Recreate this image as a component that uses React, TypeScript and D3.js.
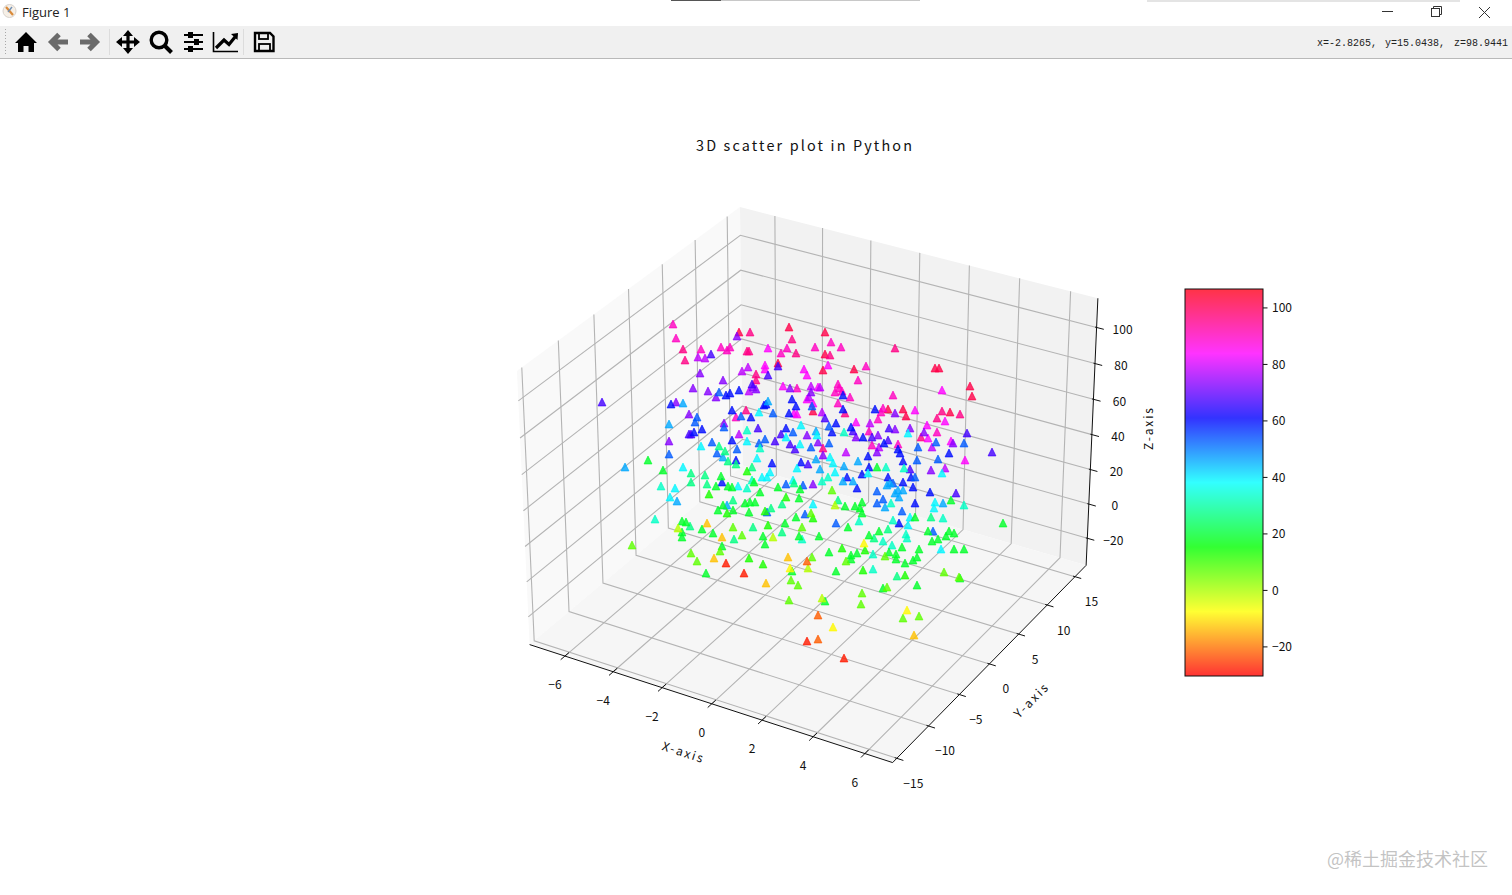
import * as d3 from "d3";
import { useEffect, useRef } from "react";

const xTicks = [-6, -4, -2, 0, 2, 4, 6];
const yTicks = [-15, -10, -5, 0, 5, 10, 15];
const zTicks = [-20, 0, 20, 40, 60, 80, 100];
const colorbarTicks = [-20, 0, 20, 40, 60, 80, 100];

const xLim: [number, number] = [-7.48, 7.06];
const yLim: [number, number] = [-15.65, 17.04];
const zLim: [number, number] = [-36, 116];
const colorLim: [number, number] = [-30.3, 106.7];

const hsvStops = ["#ff0000", "#ffff00", "#00ff00", "#00ffff", "#0000ff", "#ff00ff", "#ff0018"];

// scatter points: [viewU, viewV] grouped by colour value
const band102 = [[-61,168],[-11,173],[25,168],[25,146],[-22,137],[23,130],[54,131],[135,132],[139,132],[170,114],[172,104],[13,89],[88,91],[103,91],[106,84],[150,88]];
const band96 = [[-117,151],[-115,140],[-50,168],[-53,149],[-51,149],[-4,147],[-8,161],[30,145],[95,152],[-44,126],[-44,120],[-54,90],[45,87],[23,52],[142,89],[160,86],[137,82],[121,63]];
const band90 = [[-127,176],[-124,162],[-99,151],[-79,153],[-73,150],[-70,153],[-64,83],[31,158],[15,153],[39,112],[42,109],[38,116],[35,108],[93,105],[78,81],[69,69],[72,55],[137,68],[-13,152],[-19,147],[66,134],[58,120],[50,103],[38,97],[41,153],[83,92],[81,88],[98,56],[-3,112]];
const band84 = [[-32,152],[-35,135],[-35,131],[-17,114],[-6,87],[-3,86],[4,131],[7,125],[18,113],[28,135],[56,78],[115,90],[142,110],[145,79],[127,75],[128,62],[151,59],[165,40],[13,97],[7,101]];
const band78 = [[-58,129],[-52,133],[-51,109],[-61,66],[9,103],[20,113],[22,88],[70,77],[46,48],[79,53],[132,53],[145,32],[-102,143],[-95,142],[11,114]];
const band73 = [[-63,164],[-100,127],[-77,120],[-107,112],[-92,109],[-84,103],[-47,113],[-44,111],[-124,98],[-111,86],[-131,59],[-10,112],[11,108],[95,87],[78,65],[95,71],[110,72],[124,68],[153,57],[131,30],[23,45],[13,16],[56,63],[77,48],[7,65],[18,58],[-76,77]];
const band67 = [[-198,98],[-89,146],[-22,134],[-32,125],[-48,116],[-111,66],[-109,66],[-42,72],[-19,66],[-25,59],[-10,56],[-5,51],[8,36],[53,69],[72,63],[25,82],[88,60],[110,31],[156,7],[192,48],[167,67],[89,72]];
const band60 = [[-68,90],[-74,105],[-70,107],[-61,110],[-129,96],[-98,71],[-106,68],[-68,60],[-64,40],[-78,18],[-28,37],[-36,95],[-34,96],[-8,101],[-4,94],[-11,87],[-14,72],[36,77],[32,68],[-49,83],[1,38],[51,73],[43,91],[63,63],[75,91],[68,44],[69,33],[62,26],[47,23],[57,12],[88,23],[111,23],[103,18],[113,13],[115,-3],[130,8],[99,-23],[98,51],[100,47],[103,39],[149,47],[84,57],[43,105]];
const band53 = [[-131,46],[-88,58],[-83,47],[-63,51],[-14,16],[3,15],[5,-14],[-33,-12],[-103,83],[-105,78],[-81,108],[-76,73],[-59,84],[-27,87],[-41,57],[-35,61],[-7,68],[11,53],[12,94],[29,57],[29,74],[117,40],[138,41],[136,58],[164,57],[118,53],[77,9],[83,1],[77,-3],[102,-11],[133,-31],[36,-23],[115,23],[93,17]];
const band46 = [[-175,33],[-131,76],[-77,43],[-123,-1],[-73,-5],[-117,97],[-32,99],[16,69],[16,41],[58,39],[44,34],[53,19],[87,15],[90,17],[98,10],[103,10],[95,7],[99,3],[143,-3],[85,-7],[20,31],[43,19]];
const band39 = [[-117,33],[-125,12],[-130,3],[-99,54],[-62,14],[-43,42],[-38,23],[-33,23],[-30,28],[-7,20],[-53,59],[-41,88],[-14,63],[0,56],[1,75],[17,65],[-3,32],[13,-4],[30,43],[33,37],[35,28],[68,27],[108,67],[110,-17],[108,-25],[135,-2],[134,-8],[142,27],[141,-49]];
const band33 = [[-139,14],[-145,-19],[-53,12],[-40,52],[-53,70],[44,68],[28,23],[22,19],[86,33],[104,32],[91,-3],[59,-21],[93,-20],[143,-18],[164,-5],[106,-34],[107,-38],[92,-45],[83,-41],[73,-54],[73,-69],[2,-39],[-48,20]];
const band27 = [[-81,54],[-75,49],[-72,39],[-64,36],[-95,25],[-93,16],[-67,0],[-47,-27],[-66,-39],[-48,33],[-29,-8],[-18,-4],[-18,-32],[-6,17],[97,-76],[88,-29],[74,-38],[131,-17],[38,0],[-109,27],[-109,18],[-110,-26]];
const band19 = [[-152,40],[-137,30],[-118,-21],[-114,-22],[-118,-32],[-118,-37],[-98,-29],[-87,-33],[-84,14],[-79,24],[-72,14],[-68,13],[-82,-10],[-77,-5],[-67,-10],[-55,-3],[-50,-2],[-45,-2],[-51,-12],[-40,8],[-22,13],[0,11],[-1,2],[-4,-17],[-15,-23],[-37,-36],[-35,-44],[-78,-46],[-94,-73],[-8,-71],[-1,-36],[19,-36],[29,-52],[51,-55],[51,-59],[57,-53],[48,-27],[45,-6],[55,-6],[62,-2],[60,-8],[62,-13],[36,-71],[25,-101],[83,-88],[89,-52],[96,-54],[96,-59],[105,-63],[113,-60],[117,-57],[117,-85],[160,-78],[79,-31],[69,-35],[119,-49],[102,-47],[132,-41],[138,-39],[146,-36],[149,-31],[154,-33],[128,-31],[154,-49],[164,-49],[151,0],[203,-23],[115,-17],[77,33],[-46,18]];
const band13 = [[-91,6],[-53,29],[-73,-13],[-14,3],[-32,-25],[-51,-58],[-37,-64],[42,-48],[63,-70],[105,-75],[65,-50],[-35,-11],[13,-18]];
const band7 = [[-67,-27],[-58,-35],[-80,-51],[-168,-45],[-109,-53],[-103,-61],[-9,-80],[-2,-85],[-11,-100],[12,-57],[11,-13],[46,-61],[62,-93],[61,-104],[87,-87],[144,-72],[159,-77],[119,-116],[103,-118],[32,10],[2,-27],[85,-56]];
const bandMinus1 = [[-122,-28],[-27,-37],[8,-68],[22,-98],[35,-5]];
const bandMinus8 = [[33,-127],[107,-110],[64,-43],[-10,-68]];
const bandMinus13 = [[-78,-37],[-86,-58],[-34,-83],[114,-135],[-93,-23],[-12,-57]];
const bandMinus22 = [[18,-139],[18,-115],[7,-61]];
const bandMinus28 = [[44,-158],[7,-141],[-74,-63],[-56,-73]];

const scatterBands: [number, number[][]][] = [
  [102, band102], [96, band96], [90, band90], [84, band84], [78, band78], [73, band73],
  [67, band67], [60, band60], [53, band53], [46, band46], [39, band39], [33, band33],
  [27, band27], [19, band19], [13, band13], [7, band7], [-1, bandMinus1], [-8, bandMinus8],
  [-13, bandMinus13], [-22, bandMinus22], [-28, bandMinus28],
];

const mono = "'Liberation Mono', 'DejaVu Sans Mono', monospace";
const hei = "'Noto Sans CJK SC', 'Noto Sans', sans-serif";

function Toolbar() {
  return (
    <g>
      <rect x={0} y={26} width={1512} height={32} fill="#f0f0f0" />
      <line x1={0} x2={1512} y1={58.5} y2={58.5} stroke="#b9b9b9" />
      <line x1={5.5} x2={5.5} y1={29} y2={54} stroke="#a8a8a8" strokeDasharray="1 2" />
      <line x1={109.5} x2={109.5} y1={29} y2={55} stroke="#dcdcdc" />
      <line x1={243.5} x2={243.5} y1={29} y2={55} stroke="#dcdcdc" />
      {/* home */}
      <path d="M26 32 L37 43 L34 43 L34 52 L28.5 52 L28.5 46 L23.5 46 L23.5 52 L18 52 L18 43 L15 43 Z" fill="#000" />
      {/* back / forward */}
      <path d="M68 42 H53 M59 34.5 L51.5 42 L59 49.5" fill="none" stroke="#6a6a6a" strokeWidth={5} />
      <path d="M80 42 H95 M89 34.5 L96.5 42 L89 49.5" fill="none" stroke="#6a6a6a" strokeWidth={5} />
      {/* move */}
      <path d="M128 34 V50 M120 42 H136" stroke="#000" strokeWidth={3.2} />
      <path d="M128 30 L133 36 H123 Z M128 54 L133 48 H123 Z M116 42 L122 37 V47 Z M140 42 L134 37 V47 Z" fill="#000" />
      {/* zoom */}
      <circle cx={159} cy={40} r={7.8} fill="none" stroke="#000" strokeWidth={3.4} />
      <path d="M164.5 45.5 L171.5 52.5" stroke="#000" strokeWidth={4} />
      {/* sliders */}
      <path d="M184 35 H203 M184 42 H203 M184 49 H203" stroke="#000" strokeWidth={2.2} />
      <rect x={188} y={32} width={5} height={6} fill="#000" />
      <rect x={194} y={39} width={5} height={6} fill="#000" />
      <rect x={188} y={46} width={5} height={6} fill="#000" />
      {/* subplots chart */}
      <path d="M213.5 32 V51.5 H238" fill="none" stroke="#000" strokeWidth={1.6} />
      <path d="M216 48 L224 40 L229 44.5 L235 37" fill="none" stroke="#000" strokeWidth={3.2} />
      <path d="M231 34 L238 33 L237.5 40 Z" fill="#000" />
      {/* save */}
      <path d="M255 33 H270 L273.5 36.5 V51 H255 Z" fill="none" stroke="#000" strokeWidth={2.4} />
      <rect x={259} y={33} width={9} height={6} fill="none" stroke="#000" strokeWidth={1.8} />
      <rect x={259} y={44} width={11} height={7} fill="none" stroke="#000" strokeWidth={1.8} />
      <g fontFamily={mono} fontSize={10} fill="#222">
        <text x={1317} y={46}>x=-2.8265,</text>
        <text x={1385} y={46}>y=15.0438,</text>
        <text x={1454} y={46}>z=98.9441</text>
      </g>
    </g>
  );
}

function TitleBar() {
  return (
    <g>
      <rect x={671} y={0} width={50} height={1} fill="#555" />
      <rect x={721} y={0} width={199} height={1} fill="#c8c8c8" />
      <rect x={1147} y={0} width={313} height={2} fill="#e4e4e4" />
      <circle cx={9.5} cy={11} r={6.5} fill="#f6efe6" stroke="#d8d2cc" />
      <path d="M6 7 L13 15" stroke="#d98a3a" strokeWidth={2.2} />
      <path d="M12 7 L8 12" stroke="#6f8fb5" strokeWidth={1.4} />
      <text x={22} y={17} fontFamily="'Open Sans', 'Noto Sans', sans-serif" fontSize={13} fill="#222">Figure 1</text>
      <path d="M1382 11.5 H1393" stroke="#333" strokeWidth={1} />
      <rect x={1431.5} y={8.5} width={8} height={8} fill="none" stroke="#333" />
      <path d="M1433.5 8.5 V6.5 H1441.5 V14.5 H1439.5" fill="none" stroke="#333" />
      <path d="M1479 7 L1490 18 M1490 7 L1479 18" stroke="#333" strokeWidth={1} />
    </g>
  );
}

export default function App() {
  const plotRef = useRef<SVGGElement | null>(null);

  useEffect(() => {
    const g = d3.select(plotRef.current);
    g.selectAll("*").remove();

    // view plane units -> page pixels
    const viewX = d3.scaleLinear().domain([-800, 712]).range([0, 1512]);
    const viewY = d3.scaleLinear().domain([500, -395]).range([0, 895]);

    const xN = d3.scaleLinear().domain(xLim).range([0, 1]);
    const yN = d3.scaleLinear().domain(yLim).range([0, 1]);
    const zN = d3.scaleLinear().domain(zLim).range([0, 1]);

    // matplotlib's default 3D view, box aspect 4:4:3
    const elev = (30 * Math.PI) / 180;
    const azim = (-60 * Math.PI) / 180;
    const dist = 10;
    const box = [1.1429, 1.1429, 0.8571];
    const n = [Math.cos(azim) * Math.cos(elev), Math.sin(azim) * Math.cos(elev), Math.sin(elev)];
    const uu = [-Math.sin(azim), Math.cos(azim), 0];
    const vv = [n[1] * uu[2] - n[2] * uu[1], n[2] * uu[0] - n[0] * uu[2], n[0] * uu[1] - n[1] * uu[0]];

    const project = (x: number, y: number, z: number): [number, number] => {
      const q = [(xN(x) - 0.5) * box[0], (yN(y) - 0.5) * box[1], (zN(z) - 0.5) * box[2]];
      const w = dist - d3.sum(q, (d, i) => d * n[i]);
      const su = d3.sum(q, (d, i) => d * uu[i]) / w;
      const sv = d3.sum(q, (d, i) => d * vv[i]) / w;
      return [viewX(12.8 + 3640 * su), viewY(28 + 3640 * sv)];
    };

    const line3d = d3.line<[number, number, number]>()
      .x((d) => project(d[0], d[1], d[2])[0])
      .y((d) => project(d[0], d[1], d[2])[1]);

    const [x0, x1] = xLim;
    const [y0, y1] = yLim;
    const [z0, z1] = zLim;

    // Panes
    const panes: [[number, number, number][], string][] = [
      [[[x0, y0, z0], [x0, y1, z0], [x0, y1, z1], [x0, y0, z1]], "#f9f9f9"],
      [[[x0, y1, z0], [x1, y1, z0], [x1, y1, z1], [x0, y1, z1]], "#f2f2f2"],
      [[[x0, y0, z0], [x1, y0, z0], [x1, y1, z0], [x0, y1, z0]], "#f6f6f6"],
    ];
    panes.forEach(([pts, fill]) => {
      g.append("path").attr("d", line3d(pts) + "Z").attr("fill", fill);
    });

    // Grid
    const gridPaths: [number, number, number][][] = [
      ...xTicks.map((t) => [[t, y0, z0], [t, y1, z0], [t, y1, z1]] as [number, number, number][]),
      ...yTicks.map((t) => [[x1, t, z0], [x0, t, z0], [x0, t, z1]] as [number, number, number][]),
      ...zTicks.map((t) => [[x0, y0, t], [x0, y1, t], [x1, y1, t]] as [number, number, number][]),
    ];
    g.append("g").selectAll("path").data(gridPaths).join("path")
      .attr("d", (d) => line3d(d))
      .attr("fill", "none")
      .attr("stroke", "#b4b4b4")
      .attr("stroke-width", 1.1);

    // Axis lines and ticks
    const axisPaths: [number, number, number][][] = [
      [[x0, y0, z0], [x1, y0, z0]],
      [[x1, y0, z0], [x1, y1, z0]],
      [[x1, y1, z0], [x1, y1, z1]],
      ...xTicks.map((t) => [[t, y0 + 0.6, z0], [t, y0 - 0.6, z0]] as [number, number, number][]),
      ...yTicks.map((t) => [[x1 - 0.08, t, z0], [x1 + 0.25, t, z0]] as [number, number, number][]),
      ...zTicks.map((t) => [[x1 - 0.06, y1, t], [x1 + 0.28, y1, t]] as [number, number, number][]),
    ];
    g.append("g").selectAll("path").data(axisPaths).join("path")
      .attr("d", (d) => line3d(d))
      .attr("fill", "none")
      .attr("stroke", "#111")
      .attr("stroke-width", 1);

    // Tick labels
    const tickLabel = (text: string, px: number, py: number) => {
      g.append("text").attr("x", px).attr("y", py)
        .attr("text-anchor", "middle").attr("dominant-baseline", "central")
        .attr("font-family", hei).attr("font-size", 12).attr("fill", "#111")
        .text(text);
    };
    const fmt = (t: number) => String(t).replace("-", "\u2212");
    xTicks.forEach((t) => {
      const [px, py] = project(t, y0, z0);
      tickLabel(fmt(t), px - 10, py + 27.5);
    });
    yTicks.forEach((t) => {
      const [px, py] = project(x1, t, z0);
      tickLabel(fmt(t), px + 16.5, py + 24);
    });
    zTicks.forEach((t) => {
      const [px, py] = project(x1, y1, t);
      tickLabel(fmt(t), px + 26, py + 0.8);
    });

    // Colour
    const color = d3.scaleLinear<string>()
      .domain(hsvStops.map((_, i) => colorLim[0] + ((colorLim[1] - colorLim[0]) * i) / (hsvStops.length - 1)))
      .range(hsvStops);

    // Scatter
    const tri = d3.line()([[0, -3.9], [-3.9, 3.9], [3.9, 3.9]]) + "Z";
    const pts = scatterBands.flatMap(([c, list]) => list.map((p) => ({ u: p[0], v: p[1], c })));
    g.append("g").selectAll("path").data(pts).join("path")
      .attr("d", tri)
      .attr("transform", (d) => `translate(${viewX(d.u)},${viewY(d.v)})`)
      .attr("fill", (d) => color(d.c))
      .attr("fill-opacity", 0.8)
      .attr("stroke", (d) => color(d.c))
      .attr("stroke-opacity", 0.8)
      .attr("stroke-width", 0.9);

    // Colorbar
    const barX = 1185;
    const barW = 78;
    const barY = d3.scaleLinear().domain(colorLim).range([676, 289]);
    const defs = g.append("defs");
    const grad = defs.append("linearGradient").attr("id", "hsvbar")
      .attr("x1", 0).attr("x2", 0).attr("y1", 1).attr("y2", 0);
    hsvStops.forEach((c, i) => {
      grad.append("stop").attr("offset", i / (hsvStops.length - 1)).attr("stop-color", c);
    });
    g.append("rect").attr("x", barX).attr("y", barY(colorLim[1]))
      .attr("width", barW).attr("height", barY(colorLim[0]) - barY(colorLim[1]))
      .attr("fill", "url(#hsvbar)").attr("fill-opacity", 0.8);
    g.append("rect").attr("x", barX).attr("y", barY(colorLim[1]))
      .attr("width", barW).attr("height", barY(colorLim[0]) - barY(colorLim[1]))
      .attr("fill", "none").attr("stroke", "#111").attr("stroke-width", 1);
    colorbarTicks.forEach((t) => {
      g.append("line").attr("x1", barX + barW).attr("x2", barX + barW + 4.5)
        .attr("y1", barY(t)).attr("y2", barY(t)).attr("stroke", "#111");
      g.append("text").attr("x", barX + barW + 9).attr("y", barY(t) - 1)
        .attr("dominant-baseline", "central")
        .attr("font-family", hei).attr("font-size", 12).attr("fill", "#111")
        .text(fmt(t));
    });

    // Axis titles, spaced out to the half-width advance of the original font
    const axisTitle = (text: string, px: number, py: number, rot: number) => {
      g.append("text")
        .attr("transform", `translate(${px},${py}) rotate(${rot})`)
        .attr("text-anchor", "middle").attr("dominant-baseline", "central")
        .attr("font-family", hei).attr("font-size", 12).attr("fill", "#111")
        .attr("textLength", 42).attr("lengthAdjust", "spacing")
        .text(text);
    };
    axisTitle("X-axis", 683, 751, 18);
    axisTitle("Y-axis", 1030, 700, -45);
    axisTitle("Z-axis", 1147.5, 429, -90);
    g.append("text").attr("x", 804).attr("y", 144.3)
      .attr("text-anchor", "middle").attr("dominant-baseline", "central")
      .attr("font-family", hei).attr("font-size", 14.4).attr("fill", "#111")
      .attr("textLength", 216).attr("lengthAdjust", "spacing")
      .text("3D scatter plot in Python");
  }, []);

  return (
    <svg
      width={1512}
      height={895}
      style={{ position: "fixed", left: 0, top: 0, display: "block", background: "#fff" }}
    >
      <TitleBar />
      <Toolbar />
      <g ref={plotRef} />
      <text x={1327} y={866} fontFamily={hei} fontSize={18} fill="#b8b8b8" fillOpacity={0.85}>
        @稀土掘金技术社区
      </text>
    </svg>
  );
}
